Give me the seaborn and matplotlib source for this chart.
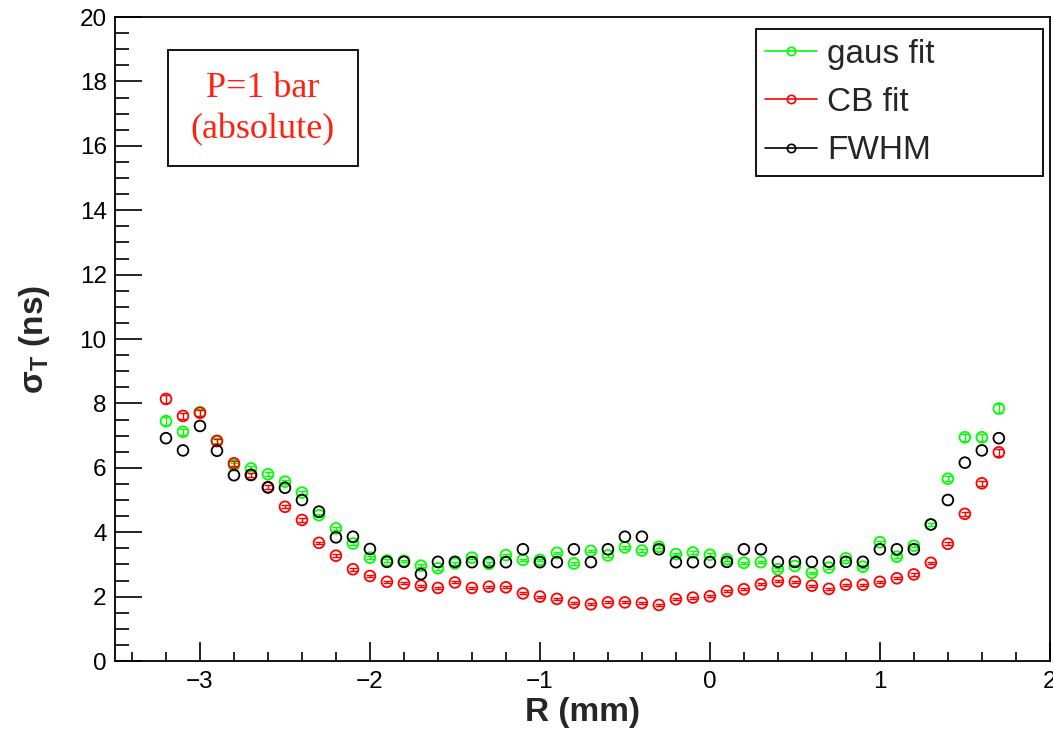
import numpy as np
import pandas as pd
import matplotlib
matplotlib.use("Agg")
import matplotlib.pyplot as plt
from matplotlib.lines import Line2D
from matplotlib.patches import Rectangle
from matplotlib.ticker import MultipleLocator
import seaborn as sns

# Radial position of each measurement (mm)
r_mm = [-3.2, -3.1, -3.0, -2.9, -2.8, -2.7, -2.6, -2.5, -2.4, -2.3,
        -2.2, -2.1, -2.0, -1.9, -1.8, -1.7, -1.6, -1.5, -1.4, -1.3,
        -1.2, -1.1, -1.0, -0.9, -0.8, -0.7, -0.6, -0.5, -0.4, -0.3,
        -0.2, -0.1, 0.0, 0.1, 0.2, 0.3, 0.4, 0.5, 0.6, 0.7,
        0.8, 0.9, 1.0, 1.1, 1.2, 1.3, 1.4, 1.5, 1.6, 1.7]

# Time resolution from a Gaussian fit (ns)
sigma_gaus = [7.45, 7.12, 7.72, 6.84, 6.08, 5.98, 5.80, 5.57, 5.23, 4.53,
              4.12, 3.65, 3.21, 3.12, 3.11, 2.96, 2.88, 3.03, 3.21, 3.02,
              3.29, 3.14, 3.14, 3.36, 3.03, 3.42, 3.28, 3.53, 3.43, 3.55,
              3.32, 3.37, 3.30, 3.16, 3.05, 3.07, 2.85, 2.95, 2.74, 2.90,
              3.19, 2.93, 3.69, 3.24, 3.58, 4.24, 5.66, 6.95, 6.95, 7.84]
err_gaus = [0.12, 0.10, 0.10, 0.08, 0.07, 0.07, 0.06, 0.06, 0.06, 0.05,
            0.05, 0.05, 0.04, 0.04, 0.04, 0.04, 0.04, 0.04, 0.04, 0.04,
            0.04, 0.04, 0.04, 0.04, 0.04, 0.04, 0.04, 0.04, 0.04, 0.04,
            0.04, 0.04, 0.04, 0.04, 0.04, 0.04, 0.04, 0.04, 0.04, 0.04,
            0.04, 0.04, 0.05, 0.05, 0.05, 0.06, 0.08, 0.11, 0.11, 0.13]

# Time resolution from a Crystal Ball fit (ns)
sigma_cb = [8.14, 7.61, 7.71, 6.83, 6.14, 5.78, 5.40, 4.79, 4.38, 3.67,
            3.27, 2.85, 2.64, 2.46, 2.41, 2.34, 2.27, 2.44, 2.27, 2.31,
            2.29, 2.10, 2.00, 1.93, 1.81, 1.76, 1.82, 1.82, 1.80, 1.74,
            1.92, 1.97, 2.01, 2.17, 2.23, 2.38, 2.48, 2.46, 2.34, 2.24,
            2.37, 2.37, 2.46, 2.57, 2.69, 3.05, 3.64, 4.57, 5.52, 6.48]
err_cb = [0.12, 0.09, 0.09, 0.08, 0.07, 0.06, 0.06, 0.05, 0.05, 0.04,
          0.04, 0.04, 0.03, 0.03, 0.03, 0.03, 0.03, 0.03, 0.03, 0.03,
          0.03, 0.03, 0.03, 0.03, 0.03, 0.03, 0.03, 0.03, 0.03, 0.03,
          0.03, 0.03, 0.03, 0.03, 0.03, 0.03, 0.03, 0.03, 0.03, 0.03,
          0.03, 0.03, 0.03, 0.03, 0.04, 0.04, 0.05, 0.06, 0.08, 0.11]

# Time resolution from the full width at half maximum (ns)
sigma_fwhm = [6.92, 6.54, 7.30, 6.53, 5.77, 5.78, 5.39, 5.38, 5.00, 4.64,
              3.84, 3.86, 3.48, 3.08, 3.08, 2.70, 3.08, 3.08, 3.07, 3.07,
              3.07, 3.47, 3.07, 3.07, 3.47, 3.07, 3.47, 3.86, 3.86, 3.47,
              3.07, 3.07, 3.07, 3.08, 3.47, 3.47, 3.08, 3.08, 3.08, 3.08,
              3.08, 3.08, 3.47, 3.47, 3.47, 4.24, 5.00, 6.16, 6.54, 6.92]

series_names = ["gaus fit", "CB fit", "FWHM"]
series_colors = ["#00ff00", "#ff0000", "#000000"]

sns.set_theme(style="ticks")
plt.rcParams["font.family"] = ["Liberation Sans", "DejaVu Sans"]
plt.rcParams["mathtext.fontset"] = "custom"
plt.rcParams["mathtext.rm"] = "Liberation Sans"
plt.rcParams["mathtext.bf"] = "Liberation Sans:bold"
plt.rcParams["axes.unicode_minus"] = True

fig = plt.figure(figsize=(10.53, 7.33), dpi=100)
ax = fig.add_axes([0.1092, 0.0982, 0.8878, 0.8786])

df = pd.DataFrame({"R": r_mm, "gaus": sigma_gaus, "gaus_err": err_gaus,
                   "cb": sigma_cb, "cb_err": err_cb, "fwhm": sigma_fwhm})

layers = [("gaus", "gaus_err", series_colors[0], 3),
          ("cb", "cb_err", series_colors[1], 4),
          ("fwhm", None, series_colors[2], 5)]
for col, ecol, color, z in layers:
    if ecol is not None:
        ax.errorbar(df["R"], df[col], yerr=df[ecol], fmt="none",
                    ecolor=color, elinewidth=1.0, capsize=2.6,
                    capthick=1.0, zorder=z)
    sns.scatterplot(data=df, x="R", y=col, ax=ax, marker="o", s=60,
                    facecolors="none", edgecolor=color, linewidth=1.3,
                    zorder=z + 0.5, legend=False)

ax.set_xlim(-3.5, 2.0)
ax.set_ylim(0, 20)
ax.xaxis.set_major_locator(MultipleLocator(1))
ax.xaxis.set_minor_locator(MultipleLocator(0.2))
ax.yaxis.set_major_locator(MultipleLocator(2))
ax.yaxis.set_minor_locator(MultipleLocator(0.5))

for side in ["left", "bottom", "right", "top"]:
    ax.spines[side].set_linewidth(1.3)
    ax.spines[side].set_color("black")

ax.tick_params(axis="both", which="both", direction="in",
               top=False, right=False, width=1.2, colors="black")
ax.tick_params(axis="y", which="major", length=19.5, pad=6, labelsize=17.5)
ax.tick_params(axis="y", which="minor", length=9.8)
ax.tick_params(axis="x", which="major", length=13.7, pad=7, labelsize=17.5)
ax.tick_params(axis="x", which="minor", length=6.5)

ax.set_xlabel("R (mm)", fontsize=24, fontweight="bold", labelpad=3)
ax.set_ylabel(r"σ$_{\mathbf{T}}$ (ns)", fontsize=24, fontweight="bold",
              labelpad=20)

# Pressure annotation box
ax.add_patch(Rectangle((0.0567, 0.7686), 0.2032, 0.1802,
                       transform=ax.transAxes, fill=False,
                       edgecolor="black", linewidth=1.3, zorder=6))
ax.text(0.158, 0.857, "P=1 bar\n(absolute)", transform=ax.transAxes,
        ha="center", va="center", color="#ff2010", fontsize=26,
        family=["Liberation Serif", "DejaVu Serif"], linespacing=1.32,
        zorder=7)

handles = [Line2D([0], [0], color=c, lw=1.2, marker="o", markersize=6,
                  markerfacecolor="none", markeredgecolor=c,
                  markeredgewidth=1.2)
           for c in series_colors]
leg = ax.legend(handles, series_names, loc="upper left", mode="expand",
                bbox_to_anchor=(0.6856, 0.0, 0.307, 0.981), fontsize=24,
                frameon=True, fancybox=False, framealpha=1,
                edgecolor="black", handlelength=1.55, handletextpad=0.3,
                labelspacing=0.52, borderpad=0.28, borderaxespad=0)
leg.get_frame().set_linewidth(1.3)

fig.savefig("out.png", dpi=100)
